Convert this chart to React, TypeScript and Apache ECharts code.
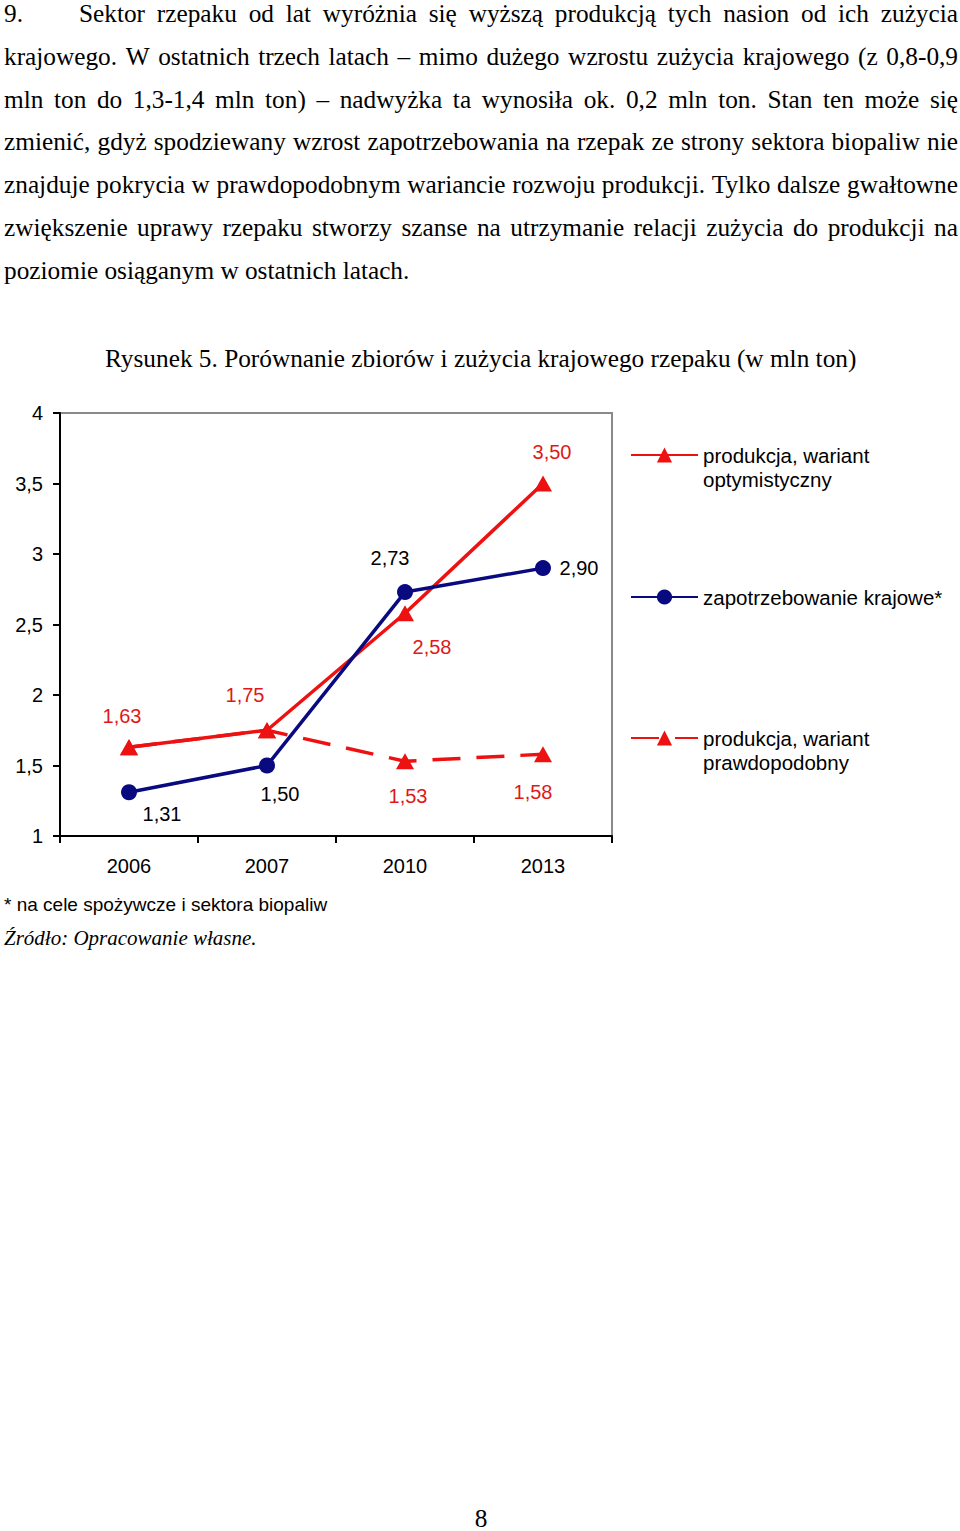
import React, { useEffect, useRef } from 'react';
import * as echarts from 'echarts';

// ---------- data ----------
const categories = ['2006', '2007', '2010', '2013'];
const optimistic = [1.63, 1.75, 2.58, 3.5];
const demand = [1.31, 1.5, 2.73, 2.9];
const probable = [1.63, 1.75, 1.53, 1.58];
const probableLabelled = [false, false, true, true];
const yMin = 1;
const yMax = 4;
const yInterval = 0.5;

const seriesNames = [
  'produkcja, wariant\noptymistyczny',
  'zapotrzebowanie krajowe*',
  'produkcja, wariant\nprawdopodobny',
];

const listNumber = '9.';
const paragraphLines = [
  'Sektor rzepaku od lat wyróżnia się wyższą produkcją tych nasion od ich zużycia',
  'krajowego. W ostatnich trzech latach – mimo dużego wzrostu zużycia krajowego (z 0,8-0,9',
  'mln ton do 1,3-1,4 mln ton) – nadwyżka ta wynosiła ok. 0,2 mln ton. Stan ten może się',
  'zmienić, gdyż spodziewany wzrost zapotrzebowania na rzepak ze strony sektora biopaliw nie',
  'znajduje pokrycia w prawdopodobnym wariancie rozwoju produkcji. Tylko dalsze gwałtowne',
  'zwiększenie uprawy rzepaku stworzy szanse na utrzymanie relacji zużycia do produkcji na',
  'poziomie osiąganym w ostatnich latach.',
];
const titleText = 'Rysunek 5. Porównanie zbiorów i zużycia krajowego rzepaku (w mln ton)';
const footnoteText = '* na cele spożywcze i sektora biopaliw';
const sourceText = 'Źródło: Opracowanie własne.';
const pageNumber = '8';

// ---------- styles ----------
const RED = '#ee1111';
const RED_LABEL = '#e01818';
const NAVY = '#0a0a80';
const SANS = '"Liberation Sans", Arial, sans-serif';
const SERIF = '"Liberation Serif", "Times New Roman", serif';
const PARA_FS = 25.3;
const PARA_Y0 = 13.2;
const PARA_STEP = 42.75;

// label offsets (px from point) – styling only
const optOffsets = [[-7, -31], [-22, -35], [27, 34], [9, -32]];
const demandOffsets = [[33, 22], [13, 28], [-15, -34], [36, 0]];
const probOffsets = [[0, 0], [0, 0], [3, 35], [-10, 38]];

const fmt = (v: number) => v.toFixed(2).replace('.', ',');

function buildParagraph(): any[] {
  const canvas = document.createElement('canvas');
  const ctx = canvas.getContext('2d')!;
  ctx.font = `${PARA_FS}px ${SERIF}`;
  const els: any[] = [];
  const mk = (t: string, x: number, y: number) => ({
    type: 'text',
    x,
    y,
    silent: true,
    style: { text: t, fontSize: PARA_FS, fontFamily: SERIF, fill: '#000', align: 'left', verticalAlign: 'middle' },
  });
  const right = 958;
  paragraphLines.forEach((line, i) => {
    const y = PARA_Y0 + i * PARA_STEP;
    let left = 4;
    if (i === 0) {
      els.push(mk(listNumber, 4, y));
      left = 79;
    }
    if (i === paragraphLines.length - 1) {
      els.push(mk(line, left, y));
      return;
    }
    const words = line.split(' ');
    const widths = words.map((w) => ctx.measureText(w).width);
    const total = widths.reduce((a, b) => a + b, 0);
    const gap = (right - left - total) / (words.length - 1);
    let x = left;
    words.forEach((w, k) => {
      els.push(mk(w, x, y));
      x += widths[k] + gap;
    });
  });
  return els;
}

function labelled(values: number[], offsets: number[][], color: string, show: boolean[] | null) {
  return values.map((v, i) => ({
    value: v,
    label: {
      show: show ? show[i] : true,
      position: 'inside',
      offset: offsets[i],
      formatter: () => fmt(v),
      color,
      fontSize: 20,
      fontFamily: SANS,
      align: 'center',
      verticalAlign: 'middle',
    },
  }));
}

// two-line legend text: an invisible spacer line on top so the icon sits on the first text line
const twoLineFormatter = (name: string) =>
  '{s| }\n' + name.split('\n').map((p) => `{t|${p}}`).join('\n');

export default function App() {
  const ref = useRef<HTMLDivElement>(null);
  useEffect(() => {
    if (!ref.current) return;
    const chart = echarts.init(ref.current, undefined, { renderer: 'svg' });
    const legendText = {
      fontSize: 20.5,
      fontFamily: SANS,
      color: '#000',
      lineHeight: 23.5,
    };
    const richText = {
      ...legendText,
      rich: {
        s: { fontSize: 2, lineHeight: 25, color: '#000' },
        t: { fontSize: 20.5, fontFamily: SANS, color: '#000', lineHeight: 23.5 },
      },
    };
    const legendBase = {
      left: 630,
      orient: 'vertical',
      padding: 0,
      itemWidth: 67,
      itemHeight: 19,
      itemGap: 0,
      selectedMode: false,
    };
    const option: any = {
      animation: false,
      backgroundColor: '#fff',
      title: {
        text: titleText,
        left: 105,
        top: 345.6,
        padding: 0,
        textStyle: { fontFamily: SERIF, fontSize: PARA_FS, fontWeight: 'normal', color: '#000' },
      },
      legend: [
        { ...legendBase, top: 419, data: [seriesNames[0]], formatter: twoLineFormatter, textStyle: richText },
        { ...legendBase, top: 585.25, data: [seriesNames[1]], textStyle: { ...legendText } },
        { ...legendBase, top: 702, data: [seriesNames[2]], formatter: twoLineFormatter, textStyle: richText },
      ],
      grid: {
        left: 60,
        top: 413,
        width: 552,
        height: 423,
        show: true,
        borderColor: '#8a8a8a',
        borderWidth: 2,
        backgroundColor: 'transparent',
      },
      xAxis: {
        type: 'category',
        data: categories,
        boundaryGap: true,
        axisLine: { lineStyle: { color: '#000', width: 2 } },
        axisTick: { show: true, length: 7, lineStyle: { color: '#000', width: 2 } },
        axisLabel: { fontSize: 20, fontFamily: SANS, color: '#000', margin: 20 },
        splitLine: { show: false },
      },
      yAxis: {
        type: 'value',
        min: yMin,
        max: yMax,
        interval: yInterval,
        axisLine: { show: true, lineStyle: { color: '#000', width: 2 } },
        axisTick: { show: true, length: 7, lineStyle: { color: '#000', width: 2 } },
        axisLabel: {
          fontSize: 20,
          fontFamily: SANS,
          color: '#000',
          margin: 17,
          formatter: (v: number) => String(v).replace('.', ','),
        },
        splitLine: { show: false },
      },
      series: [
        {
          name: seriesNames[2],
          type: 'line',
          data: labelled(probable, probOffsets, RED_LABEL, probableLabelled),
          symbol: 'triangle',
          symbolSize: [18, 16],
          lineStyle: { color: RED, width: 3.5, type: [28, 16] },
          itemStyle: { color: RED },
          z: 2,
        },
        {
          name: seriesNames[0],
          type: 'line',
          data: labelled(optimistic, optOffsets, RED_LABEL, null),
          symbol: 'triangle',
          symbolSize: [18, 16],
          lineStyle: { color: RED, width: 3.5 },
          itemStyle: { color: RED },
          z: 3,
        },
        {
          name: seriesNames[1],
          type: 'line',
          data: labelled(demand, demandOffsets, '#000', null),
          symbol: 'circle',
          symbolSize: 16,
          lineStyle: { color: NAVY, width: 3.5 },
          itemStyle: { color: NAVY },
          z: 4,
        },
      ],
      graphic: [
        ...buildParagraph(),
        {
          type: 'text',
          x: 4,
          y: 904,
          silent: true,
          style: { text: footnoteText, fontSize: 19, fontFamily: SANS, fill: '#000', align: 'left', verticalAlign: 'middle' },
        },
        {
          type: 'text',
          x: 4,
          y: 937.5,
          silent: true,
          style: {
            text: sourceText,
            fontSize: 21,
            fontStyle: 'italic',
            fontFamily: SERIF,
            fill: '#000',
            align: 'left',
            verticalAlign: 'middle',
          },
        },
        {
          type: 'text',
          x: 481,
          y: 1518,
          silent: true,
          style: { text: pageNumber, fontSize: PARA_FS, fontFamily: SERIF, fill: '#000', align: 'center', verticalAlign: 'middle' },
        },
      ],
    };
    chart.setOption(option);
    return () => chart.dispose();
  }, []);
  return (
    <div
      ref={ref}
      style={{ position: 'absolute', left: 0, top: 0, width: 960, height: 1531, background: '#fff' }}
    />
  );
}
